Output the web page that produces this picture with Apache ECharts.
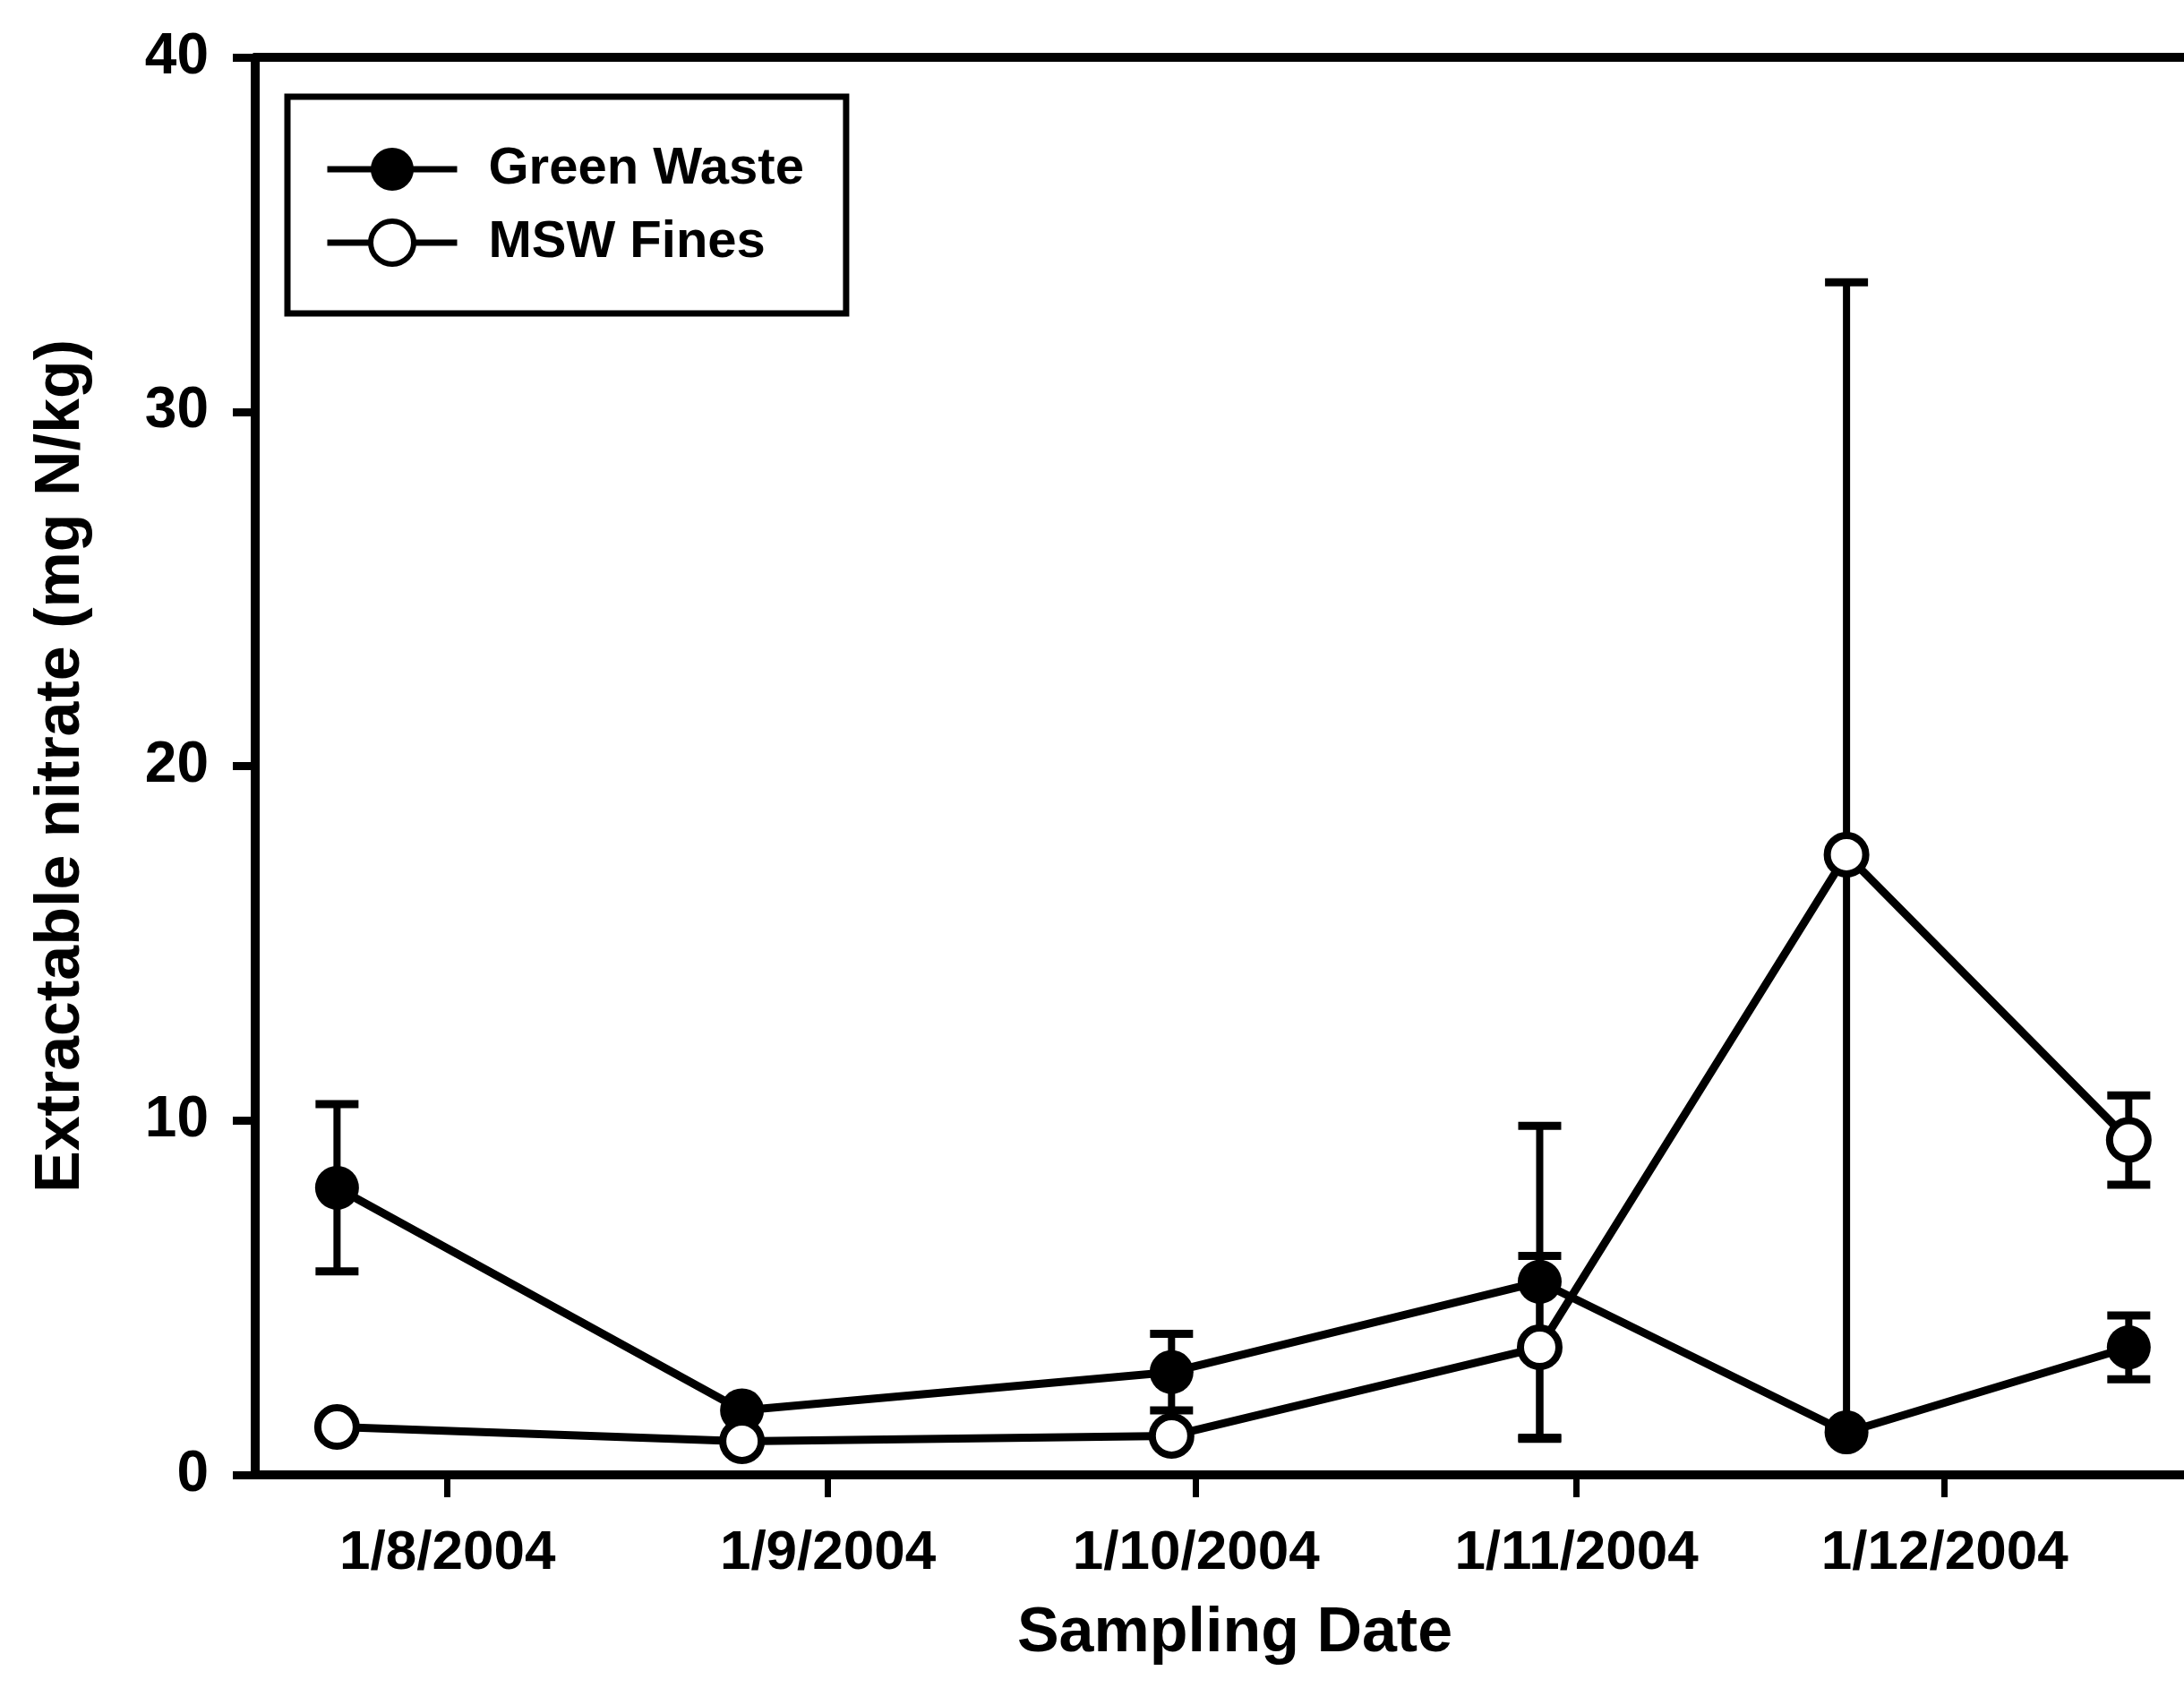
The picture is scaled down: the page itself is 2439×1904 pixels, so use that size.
<!DOCTYPE html>
<html>
<head>
<meta charset="utf-8">
<script src="https://cdn.jsdelivr.net/npm/echarts@6/dist/echarts.min.js"></script>
<style>
  html, body { margin: 0; padding: 0; background: #ffffff; }
  #chart { width: 2439px; height: 1904px; }
</style>
</head>
<body>
<div id="chart"></div>
<script>
// Sampling dates shared by both amendments
const samplingDates = ['2004-07-23', '2004-08-25', '2004-09-29', '2004-10-29', '2004-11-23', '2004-12-16'];

// Extractable nitrate (mg N/kg): means and standard errors
const greenWasteMean = [8.1, 1.82, 2.9, 5.45, 1.2, 3.6];
const greenWasteErr  = [2.36, 0, 1.08, 4.4, 0, 0.9];
const mswFinesMean   = [1.35, 0.95, 1.1, 3.6, 17.5, 9.45];
const mswFinesErr    = [0, 0, 0, 2.58, 16.15, 1.26];

// Date axis ticks and their printed labels
const tickDates  = ['2004-08-01', '2004-09-01', '2004-10-01', '2004-11-01', '2004-12-01'];
const tickLabels = ['1/8/2004', '1/9/2004', '1/10/2004', '1/11/2004', '1/12/2004'];

// Axis extents
const xStart = '2004-07-16T08:00';
const xEnd   = '2004-12-20T12:00';
const yMin = 0, yMax = 40, yStep = 10;

const FONT = "'Liberation Sans', Arial, Helvetica, sans-serif";
const DAY_MS = 86400000;
const EPOCH = Date.UTC(2004, 0, 1);

// Dates are plotted as day numbers counted from 1 Jan 2004
function toDay(s) {
  const [datePart, timePart] = s.split('T');
  const [y, m, d] = datePart.split('-').map(Number);
  let hh = 0, mm = 0;
  if (timePart) { [hh, mm] = timePart.split(':').map(Number); }
  return (Date.UTC(y, m - 1, d, hh, mm) - EPOCH) / DAY_MS;
}

const sampleDays = samplingDates.map(toDay);
const tickDays = tickDates.map(toDay);
const labelByDay = {};
tickDays.forEach((t, i) => { labelByDay[t] = tickLabels[i]; });

function pointData(means) {
  return sampleDays.map((t, i) => [t, means[i]]);
}

// Vertical error bar with caps, placed through the axes' own coordinate system
function errorSeries(means, errs) {
  const rows = [];
  sampleDays.forEach((t, i) => {
    if (errs[i] > 0) rows.push([t, means[i] - errs[i], means[i] + errs[i]]);
  });
  return {
    type: 'custom',
    silent: true,
    z: 1,
    xAxisIndex: 0,
    yAxisIndex: 0,
    encode: { x: 0, y: [1, 2] },
    data: rows,
    renderItem(params, api) {
      const lo = api.coord([api.value(0), api.value(1)]);
      const hi = api.coord([api.value(0), api.value(2)]);
      const half = 24;
      const ink = { stroke: '#000', lineWidth: 8 };
      const capInk = { stroke: '#000', lineWidth: 9 };
      return {
        type: 'group',
        children: [
          { type: 'line', shape: { x1: lo[0], y1: lo[1], x2: hi[0], y2: hi[1] }, style: ink },
          { type: 'line', shape: { x1: hi[0] - half, y1: hi[1], x2: hi[0] + half, y2: hi[1] }, style: capInk },
          { type: 'line', shape: { x1: lo[0] - half, y1: lo[1], x2: lo[0] + half, y2: lo[1] }, style: capInk }
        ]
      };
    }
  };
}

const chart = echarts.init(document.getElementById('chart'), null, { renderer: 'canvas' });

chart.setOption({
  animation: false,
  backgroundColor: '#ffffff',
  grid: {
    left: 285, right: 0, top: 64, bottom: 257,
    containLabel: false,
    outerBoundsMode: 'none'
  },
  legend: {
    orient: 'vertical',
    left: 321,
    top: 108,
    padding: [52, 47, 50, 41],
    itemWidth: 145,
    itemHeight: 60,
    itemGap: 24,
    borderColor: '#000',
    borderWidth: 7,
    backgroundColor: '#ffffff',
    lineStyle: { width: 7, color: '#000' },
    textStyle: {
      fontFamily: FONT, fontSize: 58, fontWeight: 'bold', color: '#000',
      padding: [0, 0, 0, 30]
    },
    data: [
      { name: 'Green Waste', itemStyle: { borderWidth: 0 } },
      { name: 'MSW Fines', itemStyle: { borderWidth: 6, borderColor: '#000' } }
    ]
  },
  xAxis: [
    {
      type: 'value',
      position: 'bottom',
      min: toDay(xStart),
      max: toDay(xEnd),
      axisLine: { show: true, onZero: false, lineStyle: { color: '#000', width: 10 } },
      axisTick: {
        show: true, inside: false, length: 25,
        customValues: tickDays,
        lineStyle: { color: '#000', width: 7 }
      },
      axisLabel: {
        show: true,
        customValues: tickDays,
        margin: 57,
        fontFamily: FONT, fontSize: 62, fontWeight: 'bold', color: '#000',
        formatter: (v) => labelByDay[v] || ''
      },
      splitLine: { show: false },
      minorTick: { show: false },
      name: 'Sampling Date',
      nameLocation: 'middle',
      nameGap: 143,
      nameTextStyle: {
        fontFamily: FONT, fontSize: 70, fontWeight: 'bold', color: '#000',
        padding: [0, 0, 0, 34]
      }
    },
    {
      type: 'value',
      position: 'top',
      min: toDay(xStart),
      max: toDay(xEnd),
      axisLine: { show: true, onZero: false, lineStyle: { color: '#000', width: 10 } },
      axisTick: { show: false },
      axisLabel: { show: false },
      splitLine: { show: false }
    }
  ],
  yAxis: {
    type: 'value',
    min: yMin,
    max: yMax,
    interval: yStep,
    axisLine: { show: true, onZero: false, lineStyle: { color: '#000', width: 10 } },
    axisTick: { show: true, inside: false, length: 25, lineStyle: { color: '#000', width: 9 } },
    axisLabel: {
      margin: 52,
      fontFamily: FONT, fontSize: 64, fontWeight: 'bold', color: '#000'
    },
    splitLine: { show: false },
    name: 'Extractable nitrate (mg N/kg)',
    nameLocation: 'middle',
    nameRotate: 90,
    nameGap: 181,
    nameTextStyle: { fontFamily: FONT, fontSize: 70, fontWeight: 'bold', color: '#000' }
  },
  series: [
    errorSeries(greenWasteMean, greenWasteErr),
    errorSeries(mswFinesMean, mswFinesErr),
    {
      name: 'Green Waste',
      type: 'line',
      z: 3,
      data: pointData(greenWasteMean),
      symbol: 'circle',
      symbolSize: 49,
      showAllSymbol: true,
      lineStyle: { color: '#000', width: 9 },
      itemStyle: { color: '#000', borderColor: '#000', borderWidth: 0 }
    },
    {
      name: 'MSW Fines',
      type: 'line',
      z: 4,
      data: pointData(mswFinesMean),
      symbol: 'circle',
      symbolSize: 43,
      showAllSymbol: true,
      lineStyle: { color: '#000', width: 9 },
      itemStyle: { color: '#ffffff', borderColor: '#000', borderWidth: 8 }
    }
  ]
});
</script>
</body>
</html>
